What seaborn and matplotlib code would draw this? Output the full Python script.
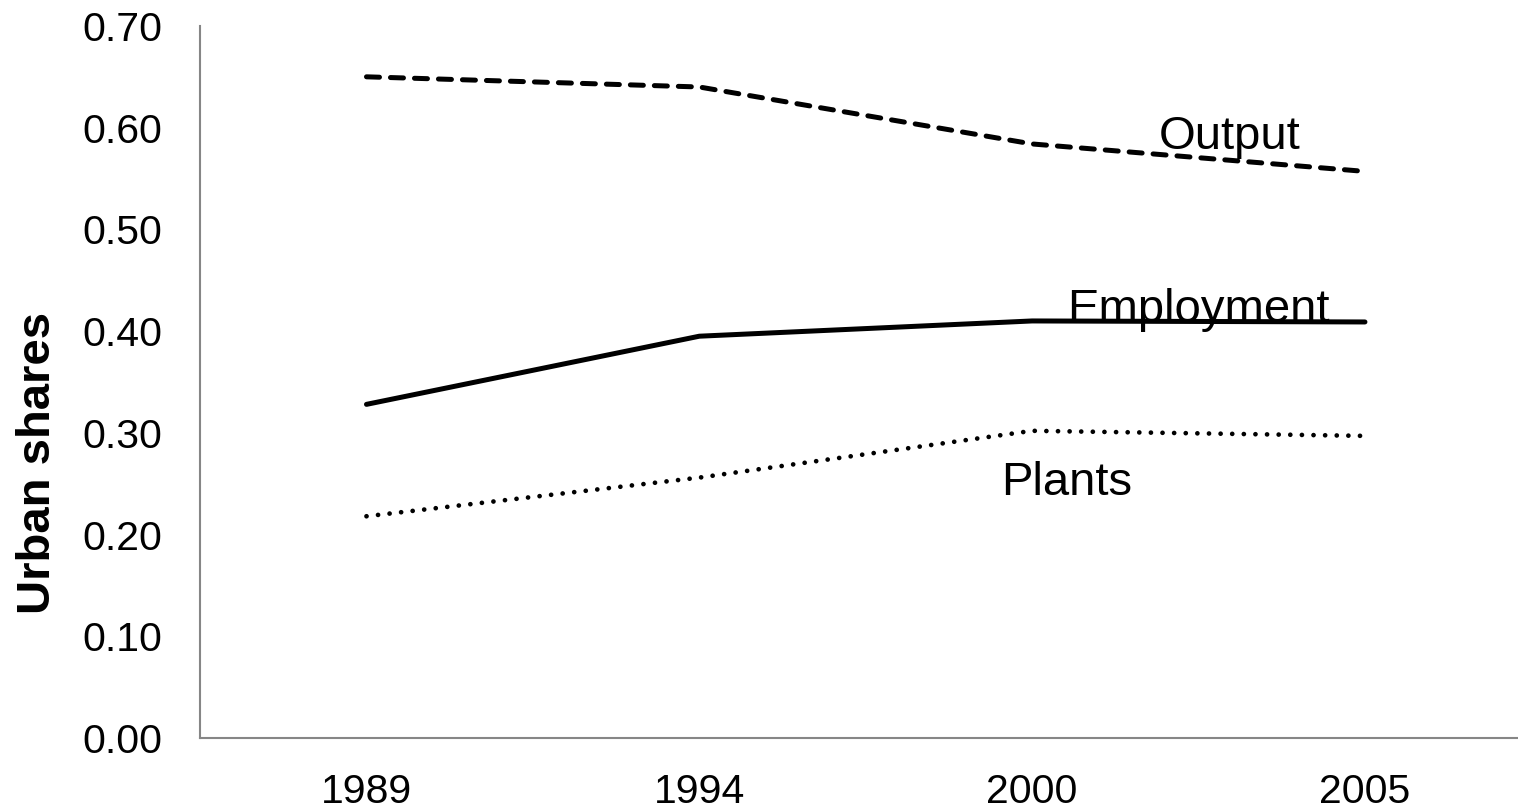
import numpy as np
import pandas as pd
import matplotlib
matplotlib.use("Agg")
import matplotlib.pyplot as plt
import seaborn as sns

years = ["1989", "1994", "2000", "2005"]
output_share = [0.650, 0.640, 0.584, 0.557]
employment_share = [0.328, 0.395, 0.410, 0.409]
plants_share = [0.218, 0.256, 0.302, 0.297]

sns.set_theme(style="white")
plt.rcParams["font.family"] = ["Liberation Sans", "DejaVu Sans"]
plt.rcParams["text.color"] = "black"
plt.rcParams["axes.labelcolor"] = "black"
plt.rcParams["xtick.color"] = "black"
plt.rcParams["ytick.color"] = "black"

AXIS_GREY = "#868686"

fig = plt.figure(figsize=(15.18, 8.11), dpi=100)
ax = fig.add_axes([0.1318, 0.090, 0.877, 0.878])

pos = np.arange(len(years))
sns.lineplot(x=pos, y=output_share, ax=ax, color="black", lw=3.6,
             linestyle=(0, (2.6, 2.2)), dash_capstyle="round")
sns.lineplot(x=pos, y=employment_share, ax=ax, color="black", lw=3.6,
             solid_capstyle="round")
sns.lineplot(x=pos, y=plants_share, ax=ax, color="black", lw=3.4,
             linestyle=(0, (0.01, 2.45)), dash_capstyle="round")

ax.set_xlim(-0.5, 3.5)
ax.set_ylim(0, 0.70)
yt = np.arange(0, 0.71, 0.10)
ax.set_yticks(yt)
ax.set_yticklabels([f"{v:.2f}" for v in yt], fontsize=29.5)

# tick marks between categories, labels centred under each category
ax.set_xticks(np.arange(-0.5, 3.6, 1.0))
ax.set_xticklabels([])
ax.set_xticks(pos, minor=True)
ax.set_xticklabels(years, minor=True, fontsize=29.5)
ax.tick_params(axis="x", which="minor", length=0, pad=25)
ax.tick_params(axis="x", which="major", length=8.6, width=1.5, color=AXIS_GREY, direction="out")
ax.tick_params(axis="y", length=8.6, width=1.5, color=AXIS_GREY, direction="out", pad=18.5)

for side in ["top", "right"]:
    ax.spines[side].set_visible(False)
for side in ["left", "bottom"]:
    ax.spines[side].set_color(AXIS_GREY)
    ax.spines[side].set_linewidth(1.5)

ax.set_ylabel("Urban shares", fontsize=34, fontweight="bold")
ax.yaxis.set_label_coords(-0.105, 0.386)

ax.text(2.381, 0.591, "Output", fontsize=34, va="center", ha="left")
ax.text(2.105, 0.421, "Employment", fontsize=34, va="center", ha="left")
ax.text(1.906, 0.251, "Plants", fontsize=34, va="center", ha="left")

fig.savefig("out.png", dpi=100)
